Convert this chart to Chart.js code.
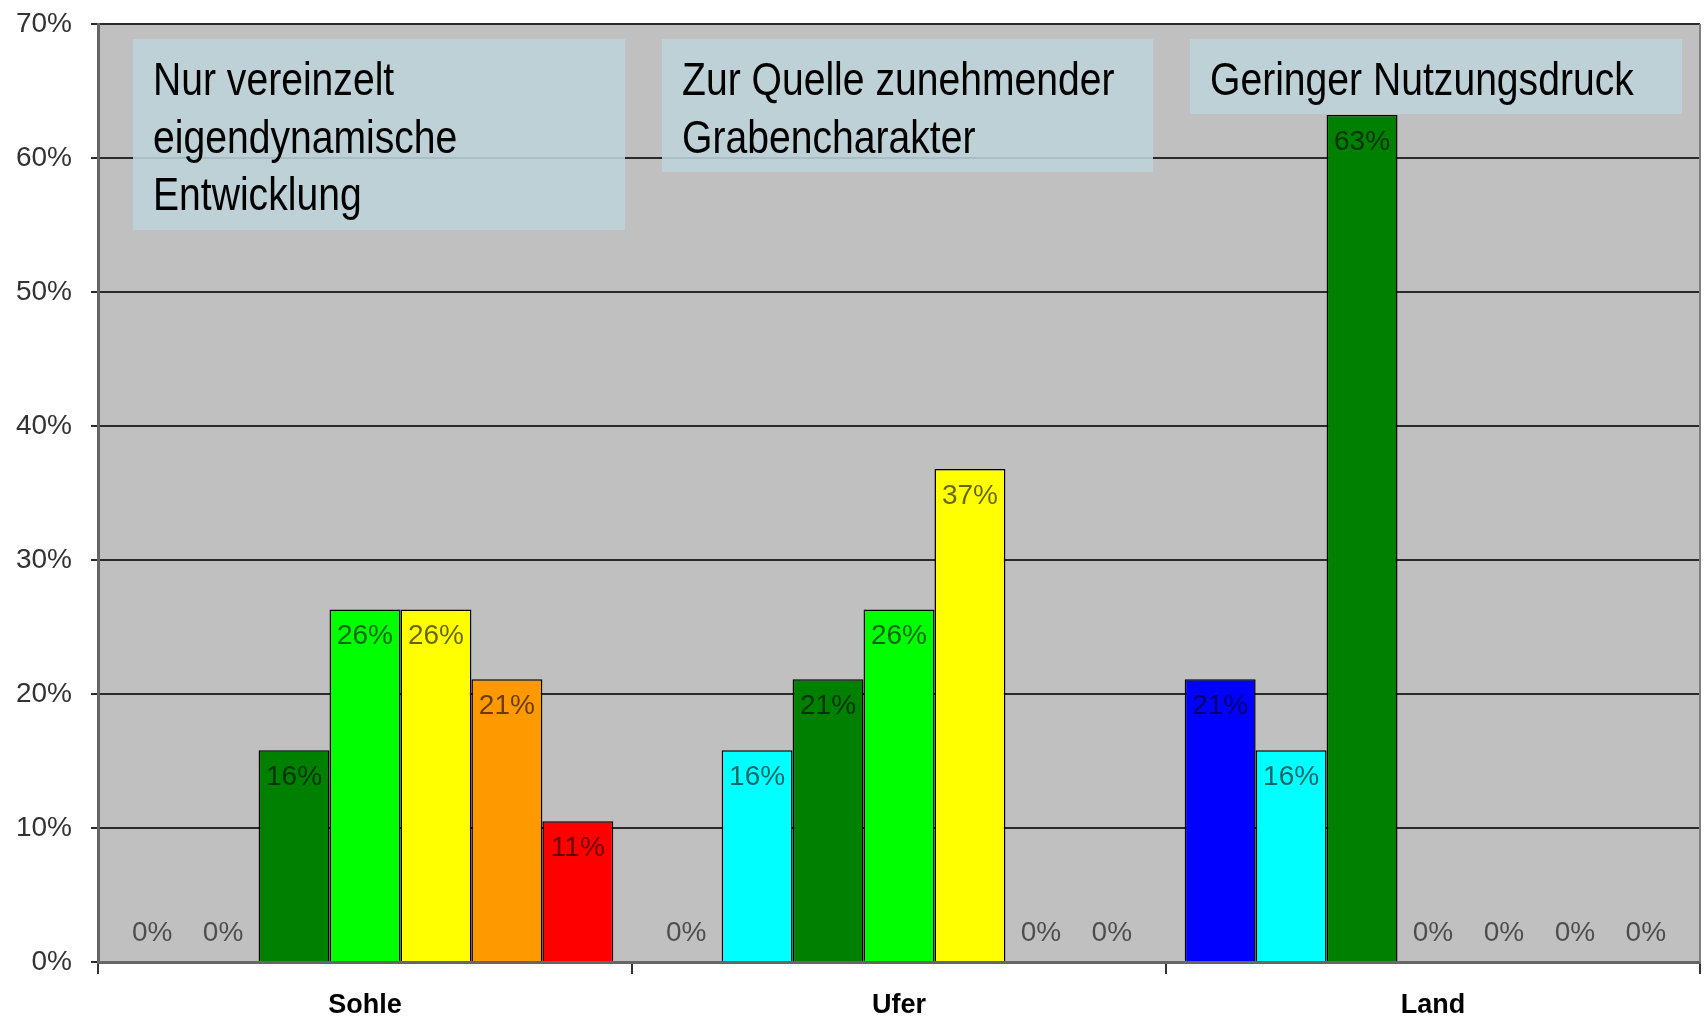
<!DOCTYPE html>
<html>
<head>
<meta charset="utf-8">
<script src="https://cdn.jsdelivr.net/npm/chart.js@4/dist/chart.umd.min.js"></script>
<style>
  html, body { margin: 0; padding: 0; background: #ffffff; }
  canvas { display: block; }
</style>
</head>
<body>
<canvas id="c" width="1706" height="1020"></canvas>
<script>
// ---- data ----
const categories = ["Sohle", "Ufer", "Land"];
const seriesNames = ["Klasse 1", "Klasse 2", "Klasse 3", "Klasse 4", "Klasse 5", "Klasse 6", "Klasse 7"];
const klasse1 = [0, 0, 21.1];
const klasse2 = [0, 15.8, 15.8];
const klasse3 = [15.8, 21.1, 63.2];
const klasse4 = [26.3, 26.3, 0];
const klasse5 = [26.3, 36.8, 0];
const klasse6 = [21.1, 0, 0];
const klasse7 = [10.5, 0, 0];
const yTicks = [0, 10, 20, 30, 40, 50, 60, 70];
const noteTexts = [
  ["Nur vereinzelt", "eigendynamische", "Entwicklung"],
  ["Zur Quelle zunehmender", "Grabencharakter"],
  ["Geringer Nutzungsdruck"]
];

// ---- styles ----
const seriesColors = ["#0000FF", "#00FFFF", "#008000", "#00FF00", "#FFFF00", "#FF9900", "#FF0000"];
const noteBoxes = [
  { x: 133, y: 39, w: 492, h: 191 },
  { x: 662, y: 39, w: 491, h: 133 },
  { x: 1190, y: 39, w: 492, h: 75 }
];

const allSeries = [klasse1, klasse2, klasse3, klasse4, klasse5, klasse6, klasse7];

const bgPlugin = {
  id: 'plotBg',
  beforeDraw(chart) {
    const { ctx, chartArea: a } = chart;
    ctx.save();
    ctx.fillStyle = '#ffffff';
    ctx.fillRect(0, 0, chart.width, chart.height);
    ctx.fillStyle = '#C0C0C0';
    ctx.fillRect(a.left, a.top, a.right - a.left, a.bottom - a.top);
    ctx.restore();
  },
  beforeDatasetsDraw(chart) {
    const { ctx, chartArea: a } = chart;
    ctx.save();
    ctx.strokeStyle = '#808080';
    ctx.lineWidth = 2;
    ctx.beginPath();
    ctx.moveTo(a.right, a.top);
    ctx.lineTo(a.right, a.bottom);
    ctx.stroke();
    ctx.fillStyle = 'rgba(188,211,216,0.88)';
    noteBoxes.forEach(b => ctx.fillRect(b.x, b.y, b.w, b.h));
    ctx.restore();
  },
  afterDatasetsDraw(chart) {
    const { ctx } = chart;
    ctx.save();
    ctx.font = '28px "Liberation Sans", Arial, sans-serif';
    ctx.textAlign = 'center';
    ctx.textBaseline = 'middle';
    chart.data.datasets.forEach((ds, di) => {
      const meta = chart.getDatasetMeta(di);
      meta.data.forEach((bar, i) => {
        const v = ds.data[i];
        const txt = Math.round(v) + '%';
        const y = v > 0 ? bar.y + 27 : bar.base - 29;
        ctx.fillStyle = 'rgba(0,0,0,0.6)';
        ctx.fillText(txt, bar.x, y);
      });
    });
    ctx.restore();
    // note texts, narrow face
    ctx.save();
    ctx.fillStyle = '#000000';
    ctx.textAlign = 'left';
    ctx.textBaseline = 'alphabetic';
    ctx.font = '46px "Liberation Sans", Arial, sans-serif';
    const sx = 0.85;
    noteTexts.forEach((lines, k) => {
      const b = noteBoxes[k];
      lines.forEach((t, j) => {
        ctx.save();
        ctx.translate(b.x + 20, 95 + j * 57.6);
        ctx.scale(sx, 1);
        ctx.fillText(t, 0, 0);
        ctx.restore();
      });
    });
    ctx.restore();
  }
};

new Chart(document.getElementById('c'), {
  type: 'bar',
  data: {
    labels: categories,
    datasets: allSeries.map((d, i) => ({
      label: seriesNames[i],
      data: d,
      backgroundColor: seriesColors[i],
      borderColor: '#000000',
      borderWidth: 1.5,
      borderSkipped: 'bottom'
    }))
  },
  options: {
    responsive: false,
    animation: false,
    devicePixelRatio: 1,
    categoryPercentage: 0.93,
    barPercentage: 1.0,
    layout: { padding: { top: 24, right: 6, left: 0, bottom: 0 } },
    plugins: {
      legend: { display: false },
      tooltip: { enabled: false }
    },
    scales: {
      x: {
        offset: true,
        grid: {
          offset: true,
          drawOnChartArea: false,
          drawTicks: true,
          tickLength: 12,
          color: '#333333',
          lineWidth: 2
        },
        border: { display: true, color: '#666666', width: 3 },
        ticks: {
          color: '#000000',
          font: { family: '"Liberation Sans", Arial, sans-serif', size: 27, weight: 'bold' },
          padding: 15
        },
        afterFit(scale) { scale.height = 58; }
      },
      y: {
        min: 0,
        max: 70,
        afterBuildTicks(scale) { scale.ticks = yTicks.map(v => ({ value: v })); },
        grid: {
          color: '#2a2a2a',
          lineWidth: 2,
          tickLength: 7,
          drawTicks: true
        },
        border: { display: true, color: '#666666', width: 3 },
        ticks: {
          color: '#333333',
          font: { family: '"Liberation Sans", Arial, sans-serif', size: 28 },
          padding: 19,
          callback: v => v + '%'
        },
        afterFit(scale) {
          scale.width = 98;
          scale.paddingTop = 0;
          scale.paddingBottom = 0;
        }
      }
    }
  },
  plugins: [bgPlugin]
});
</script>
</body>
</html>
